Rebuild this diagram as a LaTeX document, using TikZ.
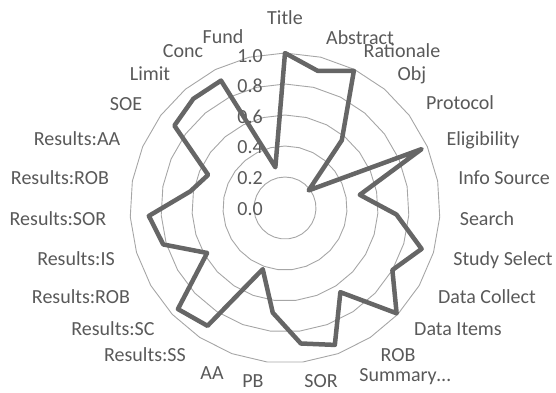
\documentclass[tikz,border=0pt]{standalone}
\usepackage{fontspec}
\setmainfont{Carlito}
\usepackage{tikz}
\usepackage{xcolor}
\usetikzlibrary{shapes.geometric}

\definecolor{labelgray}{HTML}{595959}
\definecolor{ringgray}{HTML}{A6A6A6}
\definecolor{seriesgray}{HTML}{666666}

\tikzset{
	ring/.style={regular polygon, regular polygon sides=27, draw=ringgray, line width={0.9pt}, inner sep=0pt, outer sep=0pt},
	catlabel/.style={anchor=base, text=labelgray, font=\fontsize{20}{24}\selectfont, inner sep=0pt},
	vallabel/.style={anchor=base east, text=labelgray, font=\fontsize{20}{24}\selectfont, inner sep=0pt},
}

\begin{document}
\begin{tikzpicture}[x=1pt, y=1pt]
				\useasboundingbox (0, 0) rectangle (556, -392);
				
				% grid rings, 0.2 to 1.0
				\begin{scope}[shift={(285, -208)}]
					\node[ring, minimum size={62pt}] (ring2) at (0, 0) {};
					\node[ring, minimum size={124pt}] (ring4) at (0, 0) {};
					\node[ring, minimum size={186pt}] (ring6) at (0, 0) {};
					\node[ring, minimum size={248pt}] (ring8) at (0, 0) {};
					\node[ring, minimum size={310pt}] (ring10) at (0, 0) {};
				\end{scope}
				
				% value axis
				\node[vallabel] (val0) at (263, -215.0) {0.0};
				\node[vallabel] (val2) at (263, -184.4) {0.2};
				\node[vallabel] (val4) at (263, -153.8) {0.4};
				\node[vallabel] (val6) at (263, -123.2) {0.6};
				\node[vallabel] (val8) at (263, -92.6) {0.8};
				\node[vallabel] (val10) at (263, -62.0) {1.0};
				
				% categories
				\node[catlabel] (title) at (285, -24) {Title};
				\node[catlabel] (abstract) at (360, -44) {Abstract};
				\node[catlabel] (rationale) at (402, -57) {Rationale};
				\node[catlabel] (obj) at (412, -80) {Obj};
				\node[catlabel] (protocol) at (460, -109) {Protocol};
				\node[catlabel] (eligibility) at (483, -145) {Eligibility};
				\node[catlabel] (infosource) at (504, -184) {Info Source};
				\node[catlabel] (search) at (487, -225) {Search};
				\node[catlabel] (studyselect) at (503, -265) {Study Select};
				\node[catlabel] (datacollect) at (487, -303) {Data Collect};
				\node[catlabel] (dataitems) at (458, -335) {Data Items};
				\node[catlabel] (rob) at (398, -361) {ROB};
				\node[catlabel] (summary) at (405, -381) {Summary…};
				\node[catlabel] (sor) at (321, -387) {SOR};
				\node[catlabel] (pb) at (253, -387) {PB};
				\node[catlabel] (aa) at (212, -379) {AA};
				\node[catlabel] (resss) at (145, -361) {Results:SS};
				\node[catlabel] (ressc) at (113, -335) {Results:SC};
				\node[catlabel] (resrobb) at (81, -303) {Results:ROB};
				\node[catlabel] (resis) at (76, -265) {Results:IS};
				\node[catlabel] (ressor) at (58, -225) {Results:SOR};
				\node[catlabel] (resroba) at (60, -184) {Results:ROB};
				\node[catlabel] (resaa) at (77, -145) {Results:AA};
				\node[catlabel] (soe) at (126, -110) {SOE};
				\node[catlabel] (limit) at (150, -80) {Limit};
				\node[catlabel] (conc) at (183, -57) {Conc};
				\node[catlabel] (fund) at (223, -43) {Fund};
				
				% series
				\begin{scope}[shift={(285, -208)}, scale={155}]
					\draw[-, draw=seriesgray, line width={4.5pt}, line join=round] (90.0000000:1.0000000) 
						-- (76.6666667:0.9100000) -- (63.3333333:0.9900000) -- (50.0000000:0.5700000) 
						-- (36.6666667:0.1900000) -- (23.3333333:0.9600000) -- (10.0000000:0.4900000) 
						-- (-3.3333333:0.7200000) -- (-16.6666667:0.9200000) -- (-30.0000000:0.8000000) 
						-- (-43.3333333:0.9900000) -- (-56.6666667:0.6500000) -- (-70.0000000:0.9400000) 
						-- (-83.3333333:0.8800000) -- (-96.6666667:0.6800000) -- (-110.0000000:0.4200000) 
						-- (-123.3333333:0.9100000) -- (-136.6666667:0.9500000) -- (-150.0000000:0.5800000) 
						-- (-163.3333333:0.8200000) -- (-176.6666667:0.8800000) -- (170.0000000:0.6200000) 
						-- (156.6666667:0.5400000) -- (143.3333333:0.8900000) -- (130.0000000:0.9200000) 
						-- (116.6666667:0.9200000) -- (103.3333333:0.2700000) -- cycle;
				\end{scope}
				
			\end{tikzpicture}
\end{document}
